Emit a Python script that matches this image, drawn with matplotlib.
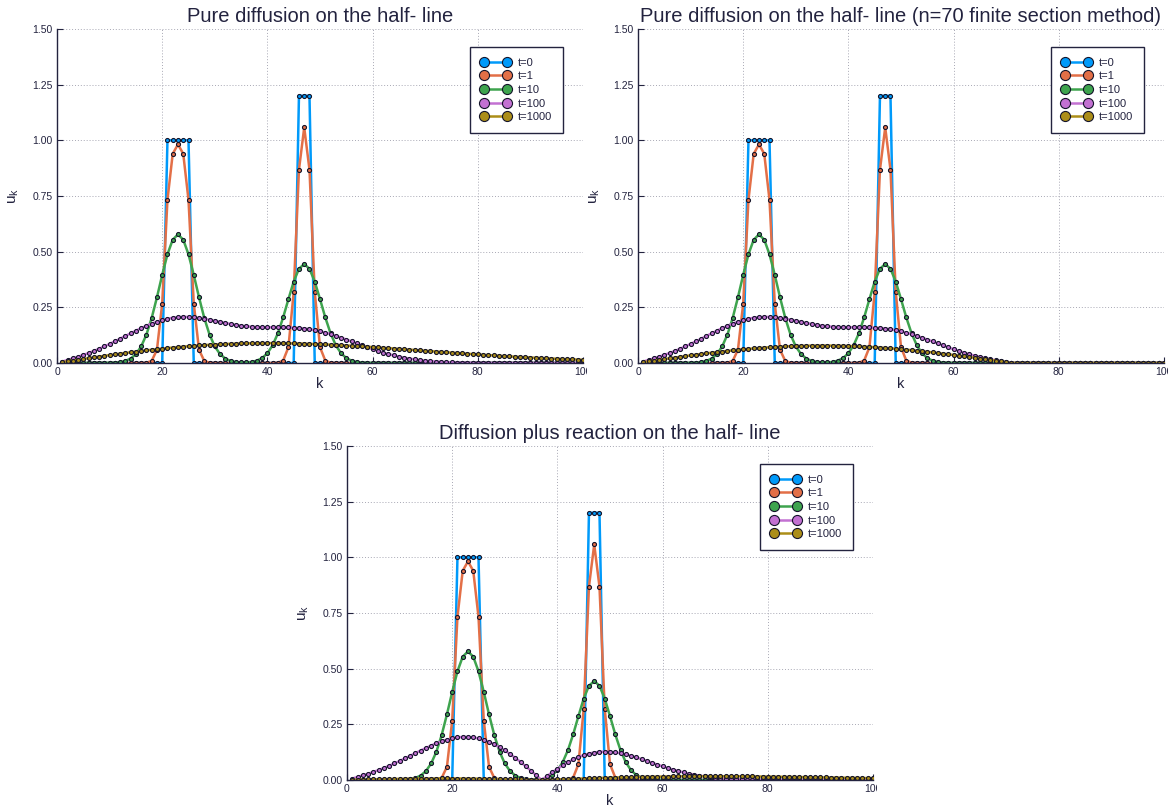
import numpy as np
import matplotlib
matplotlib.use('Agg')
import matplotlib.pyplot as plt
from matplotlib.transforms import Bbox, TransformedBbox

plt.rcParams['font.family'] = ['Liberation Sans', 'DejaVu Sans']

# lattice sites
k = np.arange(1, 101)
times = ['t=0', 't=1', 't=10', 't=100', 't=1000']
colors = ['#009AFA', '#E36F47', '#3EA44E', '#C371D2', '#AC8E18']

# initial profile (same in every panel)
u_t0 = [0.0] * 20 + [1.0] * 5 + [0.0] * 20 + [1.2] * 3 + [0.0] * 52

u_t1 = ([0.0] * 15
        + [0.0001, 0.0011, 0.0093, 0.0592, 0.2671, 0.7328, 0.9397, 0.9815,
           0.9397, 0.7328, 0.2671, 0.0592, 0.0093, 0.0011, 0.0001]
        + [0.0] * 10
        + [0.0001, 0.0013, 0.0111, 0.0709, 0.3192, 0.8683, 1.0579, 0.8683,
           0.3192, 0.0709, 0.0111, 0.0013, 0.0001]
        + [0.0] * 47)

u_t10 = ([0.0] * 7
         + [0.0001, 0.0002, 0.0006, 0.0016, 0.0040, 0.0092, 0.0199, 0.0399, 0.0742, 0.1274,
            0.2020, 0.2948, 0.3956, 0.4882, 0.5538, 0.5775, 0.5538, 0.4882, 0.3956, 0.2948,
            0.2020, 0.1274, 0.0742, 0.0399, 0.0199, 0.0093, 0.0043, 0.0023, 0.0024, 0.0048,
            0.0105, 0.0222, 0.0437, 0.0798, 0.1336, 0.2050, 0.2869, 0.3656, 0.4232, 0.4444,
            0.4232, 0.3656, 0.2869, 0.2050, 0.1336, 0.0798, 0.0437, 0.0222, 0.0104, 0.0046,
            0.0018, 0.0007, 0.0002, 0.0001]
         + [0.0] * 39)

u_t10_react = ([0.0] * 7
               + [0.0001, 0.0002, 0.0006, 0.0016, 0.0040, 0.0092, 0.0199, 0.0399, 0.0742, 0.1274,
                  0.2020, 0.2948, 0.3956, 0.4882, 0.5538, 0.5775, 0.5538, 0.4882, 0.3956, 0.2948,
                  0.2020, 0.1274, 0.0742, 0.0399, 0.0199, 0.0092, 0.0040, 0.0016, 0.0005, 0.0,
                  0.0086, 0.0215, 0.0435, 0.0797, 0.1336, 0.2050, 0.2869, 0.3656, 0.4232, 0.4444,
                  0.4232, 0.3656, 0.2869, 0.2050, 0.1336, 0.0798, 0.0437, 0.0222, 0.0104, 0.0046,
                  0.0018, 0.0007, 0.0002, 0.0001]
               + [0.0] * 39)

u_t100_half = [0.0067, 0.0135, 0.0206, 0.0281, 0.0362, 0.0447, 0.0540, 0.0639, 0.0744, 0.0855,
               0.0971, 0.1090, 0.1211, 0.1332, 0.1450, 0.1564, 0.1671, 0.1769, 0.1855, 0.1928,
               0.1986, 0.2030, 0.2057, 0.2069, 0.2066, 0.2050, 0.2022, 0.1986, 0.1942, 0.1894,
               0.1845, 0.1796, 0.1751, 0.1710, 0.1675, 0.1647, 0.1627, 0.1613, 0.1605, 0.1601,
               0.1601, 0.1601, 0.1600, 0.1596, 0.1587, 0.1572, 0.1549, 0.1517, 0.1475, 0.1424,
               0.1364, 0.1296, 0.1221, 0.1140, 0.1055, 0.0967, 0.0878, 0.0790, 0.0704, 0.0621,
               0.0542, 0.0469, 0.0402, 0.0341, 0.0287, 0.0239, 0.0196, 0.0160, 0.0129, 0.0103,
               0.0082, 0.0064, 0.0050, 0.0038, 0.0029, 0.0022, 0.0016, 0.0012, 0.0009, 0.0006,
               0.0005, 0.0003, 0.0002, 0.0002, 0.0001, 0.0001, 0.0001, 0.0, 0.0, 0.0,
               0.0, 0.0, 0.0, 0.0, 0.0, 0.0, 0.0, 0.0, 0.0, 0.0]

u_t100_n70 = [0.0067, 0.0135, 0.0206, 0.0281, 0.0362, 0.0447, 0.0540, 0.0639, 0.0744, 0.0855,
              0.0971, 0.1090, 0.1211, 0.1332, 0.1450, 0.1564, 0.1671, 0.1769, 0.1855, 0.1928,
              0.1986, 0.2030, 0.2057, 0.2069, 0.2066, 0.2050, 0.2022, 0.1986, 0.1942, 0.1894,
              0.1845, 0.1796, 0.1751, 0.1710, 0.1675, 0.1647, 0.1627, 0.1613, 0.1605, 0.1601,
              0.1601, 0.1601, 0.1600, 0.1596, 0.1587, 0.1572, 0.1549, 0.1517, 0.1475, 0.1424,
              0.1364, 0.1296, 0.1221, 0.1140, 0.1054, 0.0966, 0.0877, 0.0788, 0.0701, 0.0617,
              0.0538, 0.0463, 0.0393, 0.0329, 0.0270, 0.0217, 0.0167, 0.0122, 0.0080, 0.0039] + [0.0] * 30

u_t100_react = [0.0067, 0.0135, 0.0206, 0.0281, 0.0361, 0.0447, 0.0539, 0.0638, 0.0742, 0.0853,
                0.0967, 0.1085, 0.1205, 0.1323, 0.1438, 0.1547, 0.1648, 0.1737, 0.1813, 0.1872,
                0.1913, 0.1933, 0.1933, 0.1910, 0.1865, 0.1798, 0.1709, 0.1600, 0.1471, 0.1326,
                0.1165, 0.0991, 0.0806, 0.0612, 0.0412, 0.0207, 0.0, 0.0173, 0.0342, 0.0504,
                0.0656, 0.0796, 0.0921, 0.1028, 0.1117, 0.1186, 0.1235, 0.1264, 0.1274, 0.1265,
                0.1240, 0.1200, 0.1147, 0.1084, 0.1012, 0.0935, 0.0855, 0.0773, 0.0691, 0.0612,
                0.0536, 0.0465, 0.0399, 0.0339, 0.0285, 0.0238, 0.0196, 0.0160, 0.0129, 0.0103,
                0.0082, 0.0064, 0.0050, 0.0038, 0.0029, 0.0022, 0.0016, 0.0012, 0.0009, 0.0006,
                0.0005, 0.0003, 0.0002, 0.0002, 0.0001, 0.0001, 0.0001, 0.0, 0.0, 0.0,
                0.0, 0.0, 0.0, 0.0, 0.0, 0.0, 0.0, 0.0, 0.0, 0.0]

u_t1000_half = [0.0036, 0.0073, 0.0109, 0.0145, 0.0181, 0.0216, 0.0251, 0.0285, 0.0319, 0.0353,
                0.0386, 0.0418, 0.0449, 0.0480, 0.0510, 0.0539, 0.0567, 0.0594, 0.0620, 0.0644,
                0.0668, 0.0691, 0.0712, 0.0733, 0.0752, 0.0770, 0.0787, 0.0802, 0.0817, 0.0830,
                0.0841, 0.0852, 0.0861, 0.0869, 0.0876, 0.0881, 0.0886, 0.0889, 0.0891, 0.0891,
                0.0891, 0.0890, 0.0887, 0.0883, 0.0879, 0.0873, 0.0867, 0.0859, 0.0851, 0.0842,
                0.0832, 0.0821, 0.0810, 0.0798, 0.0785, 0.0772, 0.0758, 0.0744, 0.0729, 0.0714,
                0.0698, 0.0682, 0.0666, 0.0650, 0.0633, 0.0617, 0.0600, 0.0583, 0.0566, 0.0549,
                0.0532, 0.0515, 0.0498, 0.0481, 0.0465, 0.0448, 0.0432, 0.0416, 0.0400, 0.0385,
                0.0369, 0.0354, 0.0340, 0.0325, 0.0311, 0.0297, 0.0284, 0.0271, 0.0258, 0.0246,
                0.0234, 0.0223, 0.0212, 0.0201, 0.0190, 0.0180, 0.0171, 0.0161, 0.0152, 0.0144]

u_t1000_n70 = [0.0035, 0.0071, 0.0106, 0.0140, 0.0175, 0.0209, 0.0243, 0.0276, 0.0309, 0.0341,
               0.0372, 0.0403, 0.0433, 0.0461, 0.0489, 0.0516, 0.0542, 0.0567, 0.0591, 0.0613,
               0.0634, 0.0654, 0.0672, 0.0690, 0.0705, 0.0720, 0.0733, 0.0744, 0.0754, 0.0763,
               0.0770, 0.0775, 0.0779, 0.0781, 0.0782, 0.0782, 0.0779, 0.0776, 0.0770, 0.0764,
               0.0755, 0.0746, 0.0735, 0.0722, 0.0708, 0.0693, 0.0676, 0.0659, 0.0639, 0.0619,
               0.0598, 0.0575, 0.0551, 0.0527, 0.0501, 0.0474, 0.0447, 0.0418, 0.0389, 0.0359,
               0.0329, 0.0298, 0.0266, 0.0234, 0.0201, 0.0168, 0.0135, 0.0102, 0.0068, 0.0034] + [0.0] * 30

u_t1000_react = [0.0006, 0.0011, 0.0017, 0.0023, 0.0028, 0.0033, 0.0038, 0.0043, 0.0047, 0.0051,
                 0.0055, 0.0058, 0.0061, 0.0063, 0.0065, 0.0066, 0.0067, 0.0068, 0.0068, 0.0067,
                 0.0066, 0.0065, 0.0063, 0.0061, 0.0058, 0.0055, 0.0051, 0.0047, 0.0043, 0.0038,
                 0.0033, 0.0028, 0.0023, 0.0017, 0.0011, 0.0006, 0.0, 0.0009, 0.0017, 0.0026,
                 0.0034, 0.0043, 0.0051, 0.0059, 0.0067, 0.0075, 0.0082, 0.0090, 0.0097, 0.0103,
                 0.0110, 0.0116, 0.0122, 0.0128, 0.0133, 0.0138, 0.0142, 0.0146, 0.0150, 0.0154,
                 0.0157, 0.0160, 0.0162, 0.0164, 0.0165, 0.0167, 0.0168, 0.0168, 0.0168, 0.0168,
                 0.0168, 0.0167, 0.0166, 0.0165, 0.0163, 0.0161, 0.0159, 0.0157, 0.0155, 0.0152,
                 0.0149, 0.0146, 0.0143, 0.0140, 0.0136, 0.0133, 0.0129, 0.0125, 0.0122, 0.0118,
                 0.0114, 0.0110, 0.0106, 0.0102, 0.0099, 0.0095, 0.0091, 0.0087, 0.0084, 0.0080]

FG = '#23233f'
W, H = 1174, 807


def draw_panel(ax, title, series):
    for lab, col, vals in zip(times, colors, series):
        ax.plot(k, vals, color=col, lw=1.8, marker='o', ms=2.9, mfc=col,
                mec='#14142a', mew=0.8, label=lab)
    ax.set_xlim(0, 100)
    ax.set_ylim(0, 1.5)
    ax.set_xticks([0, 20, 40, 60, 80, 100])
    ax.set_yticks([0, 0.25, 0.5, 0.75, 1.0, 1.25, 1.5])
    ax.set_yticklabels(['%.2f' % v for v in ax.get_yticks()])
    ax.grid(True, color='#a8a8b4', lw=0.7, ls=(0, (1, 2)))
    ax.set_axisbelow(True)
    for side in ('top', 'right'):
        ax.spines[side].set_visible(False)
    for side in ('left', 'bottom'):
        ax.spines[side].set_color(FG)
        ax.spines[side].set_linewidth(1.0)
    ax.tick_params(direction='in', length=4, width=0.8, colors=FG,
                   labelsize=7.5, pad=3)
    ax.set_title(title, fontsize=14.5, color=FG, pad=5)
    ax.set_xlabel('k', fontsize=10.5, color=FG, labelpad=0)
    ax.set_ylabel(r'$\mathregular{u_k}$', fontsize=11, color=FG, labelpad=8)
    leg = ax.legend(loc='upper right', bbox_to_anchor=(1 - 20 / 526, 1 - 18 / 334),
                    borderaxespad=0, fontsize=8, numpoints=2, markerscale=2.5,
                    handlelength=2.6, handletextpad=0.75, borderpad=0.95,
                    labelspacing=0.33, fancybox=False, framealpha=1)
    leg.get_frame().set_edgecolor(FG)
    leg.get_frame().set_linewidth(1.0)
    for txt in leg.get_texts():
        txt.set_color(FG)
    # the 100 label runs into the next panel and gets cut at the frame
    clip = TransformedBbox(Bbox([[-0.2, -0.3], [1 + 4 / 526, 1.0]]), ax.transAxes)
    for lbl in ax.get_xticklabels():
        lbl.set_clip_box(clip)
        lbl.set_clip_on(True)


fig = plt.figure(figsize=(W / 100, H / 100), dpi=100)
ax1 = fig.add_axes([57 / W, (H - 363) / H, 526 / W, 334 / H])
ax2 = fig.add_axes([638 / W, (H - 363) / H, 526 / W, 334 / H])
ax3 = fig.add_axes([347 / W, (H - 780) / H, 526 / W, 334 / H])

draw_panel(ax1, 'Pure diffusion on the half- line',
           [u_t0, u_t1, u_t10, u_t100_half, u_t1000_half])
draw_panel(ax2, 'Pure diffusion on the half- line (n=70 finite section method)',
           [u_t0, u_t1, u_t10, u_t100_n70, u_t1000_n70])
draw_panel(ax3, 'Diffusion plus reaction on the half- line',
           [u_t0, u_t1, u_t10_react, u_t100_react, u_t1000_react])

fig.savefig('out.png', dpi=100)
